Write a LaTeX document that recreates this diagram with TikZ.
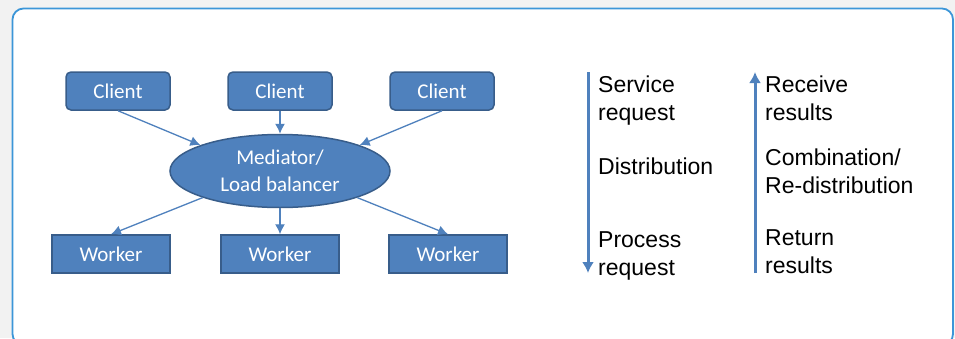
\documentclass[tikz,border=0pt]{standalone}
\usepackage{fontspec}
\setmainfont{Liberation Sans}
\newfontfamily\boxfont{Carlito}
\usetikzlibrary{shapes.geometric,arrows.meta}
\definecolor{officeblue}{HTML}{4F81BD}
\definecolor{officeedge}{HTML}{385D8A}
\definecolor{framblue}{HTML}{3C96D8}
\tikzset{
  client/.style={draw=officeedge, fill=officeblue, line width=1.5pt, rounded corners=5pt,
    minimum width=104pt, minimum height=38pt, inner sep=0pt, text=white,
    font=\boxfont\fontsize{21}{25}\selectfont},
  worker/.style={client, rounded corners=0pt, minimum width=118pt},
  mediator/.style={ellipse, draw=officeedge, fill=officeblue, line width=1.5pt,
    minimum width=220pt, minimum height=73pt, inner sep=0pt, text=white, align=center,
    font=\boxfont\fontsize{21}{27}\selectfont},
  link/.style={->, draw=officeblue, line width=1.3pt},
  flow/.style={-{Latex[length=11pt,width=12pt]}, draw=officeblue, line width=3pt},
  step label/.style={anchor=base west, align=left, inner sep=0pt,
    font=\fontsize{23}{27.5}\selectfont}
}
\begin{document}
\begin{tikzpicture}[x=1pt, y=-1pt, >={Latex[length=10pt,width=10pt]}]
\useasboundingbox (0,0) rectangle (955,338);
\fill[black!5] (0,0) rectangle (955,338);
\draw[framblue, fill=white, line width=1.8pt, rounded corners=11pt] (12.5,8.5) rectangle (953,345);
% clients, mediator, workers
\node[client] (c1) at (118,91) {Client};
\node[client] (c2) at (280,91) {Client};
\node[client] (c3) at (442,91) {Client};
\node[mediator] (med) at (280,171) {Mediator/\\Load balancer};
\node[worker] (w1) at (111,254) {Worker};
\node[worker] (w2) at (280,254) {Worker};
\node[worker] (w3) at (448,254) {Worker};
\draw[link] (c1.south) -- (med.162);
\draw[link] (c2) -- (med);
\draw[link] (c3.south) -- (med.18);
\draw[link] (med.199) -- (w1.north);
\draw[link] (med) -- (w2);
\draw[link] (med.-19) -- (w3.north);
% request / result flow
\coordinate (dtop) at (588,72);
\coordinate (dbot) at (588,273);
\coordinate (utop) at (755,72);
\coordinate (ubot) at (755,273);
\draw[flow] (dtop) -- (dbot);
\draw[flow] (ubot) -- (utop);
\node[step label] (serv) at (598,120) {Service\\request};
\node[step label] (dist) at (598,174) {Distribution};
\node[step label] (proc) at (598,275) {Process\\request};
\node[step label] (recv) at (765,120) {Receive\\results};
\node[step label] (comb) at (765,193) {Combination/\\Re-distribution};
\node[step label] (retn) at (765,273) {Return\\results};
\end{tikzpicture}
\end{document}
